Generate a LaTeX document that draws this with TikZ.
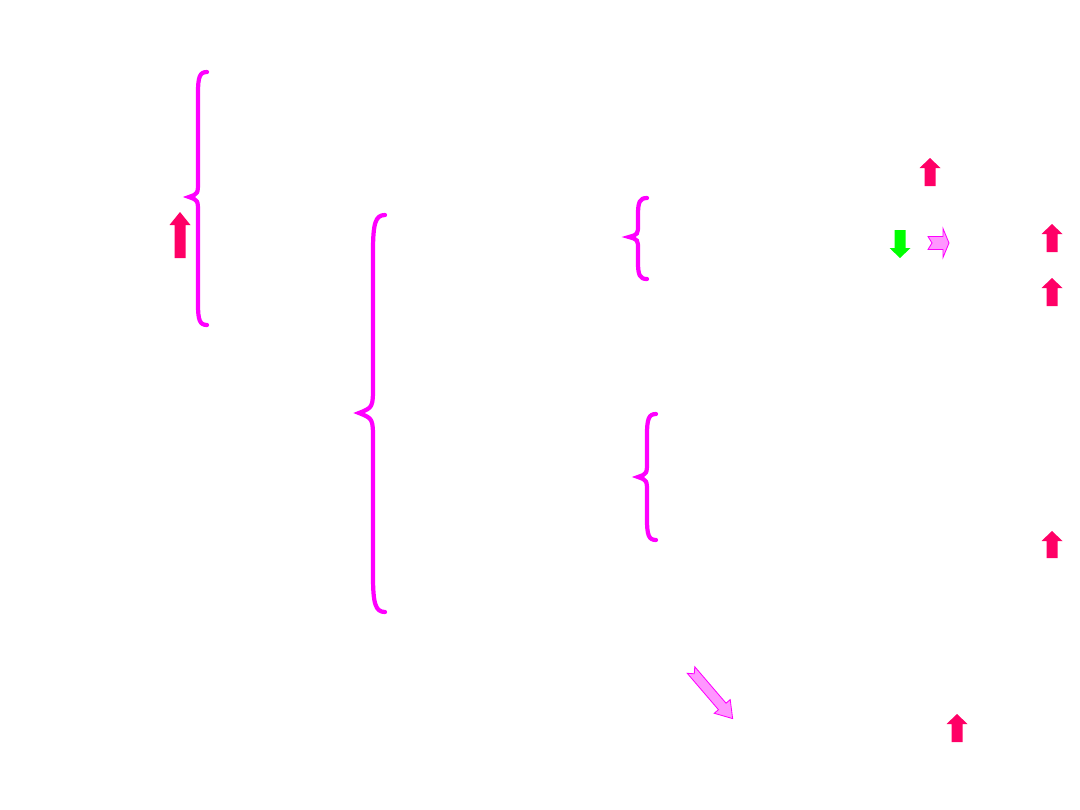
\documentclass[tikz,border=0pt]{standalone}
\usepackage{tikz}
\usetikzlibrary{calc}
\definecolor{bracepink}{RGB}{255,0,255}
\definecolor{arrowred}{RGB}{255,0,102}
\definecolor{arrowgreen}{RGB}{0,255,0}
\definecolor{lightpink}{RGB}{255,150,255}

% curly brace: x of spine, top, tip, bottom, end offset, tip offset, bend
\newcommand{\curly}[7]{%
  \draw[brace line] (#1+#5,#2) .. controls (#1+0.2*#5,#2) and (#1,#2+0.3*#7) .. (#1,#2+1.3*#7)
    -- (#1,#3-#7) .. controls (#1,#3-0.2*#7) .. (#1-#6,#3)
    .. controls (#1,#3+0.2*#7) .. (#1,#3+#7)
    -- (#1,#4-1.3*#7) .. controls (#1,#4-0.3*#7) and (#1+0.2*#5,#4) .. (#1+#5,#4);}

\begin{document}
\begin{tikzpicture}[x=0.025cm,y=-0.025cm,
                    brace line/.style={draw=bracepink,line width=3pt,line cap=round},
                    pics/uparr/.style n args={3}{code={
                      \fill[#1] (-5.5,0) -- (-5.5,-#2+#3) -- (-10.5,-#2+#3) -- (0,-#2)
                        -- (10.5,-#2+#3) -- (5.5,-#2+#3) -- (5.5,0) -- cycle;}},
                    pics/notcharr/.style n args={5}{code={
                      \filldraw[fill=lightpink,draw=bracepink,line width=0.6pt,line join=miter]
                        (0,-#2) -- (#1-#4,-#2) -- (#1-#4,-#3) -- (#1,0) -- (#1-#4,#3)
                        -- (#1-#4,#2) -- (0,#2) -- (#5,0) -- cycle;}}]

  \useasboundingbox (0,0) rectangle (1080,810);

  % braces
  \curly{198}{72}{197}{325}{9}{9}{16}
  \curly{373}{215}{413}{612}{12}{14}{28}
  \curly{638}{198}{237}{279}{9}{9}{13}
  \curly{647}{414}{477}{540}{9}{9}{16}

  % red up arrows
  \pic at (180,258) {uparr={arrowred}{46}{13}};
  \pic at (930,186) {uparr={arrowred}{28}{10}};
  \pic at (1052,252) {uparr={arrowred}{28}{10}};
  \pic at (1052,306) {uparr={arrowred}{28}{10}};
  \pic at (1052,558) {uparr={arrowred}{27}{10}};
  \pic at (957,742) {uparr={arrowred}{28}{10}};

  % green down arrow
  \pic[rotate=180] at (900,230) {uparr={arrowgreen}{28}{10}};

  % notched pink arrows
  \pic at (928,243) {notcharr={21}{6.5}{14.5}{6}{4}};
  \pic[rotate=-49.4] at (691,670) {notcharr={64}{5}{10.5}{16}{5}};

\end{tikzpicture}
\end{document}
